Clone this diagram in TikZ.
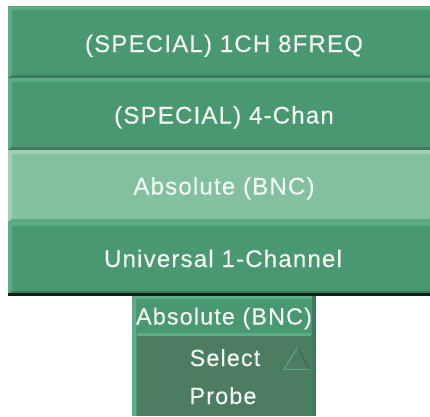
\documentclass[tikz,border=0pt]{standalone}
\usepackage{fontspec}
\setmainfont{Liberation Sans}
\newfontfamily\uifont[LetterSpace=5,FakeBold=0.3]{Liberation Sans}
\definecolor{btn}{HTML}{4A9871}
\definecolor{btnhi}{HTML}{5BAD85}
\definecolor{btnlo}{HTML}{3F7A5E}
\definecolor{sel}{HTML}{82C09F}
\definecolor{selhi}{HTML}{A0D0B8}
\definecolor{sello}{HTML}{5FA880}
\definecolor{panel}{HTML}{4C7D63}
\definecolor{txt}{HTML}{F4F8F4}
\tikzset{
  lbl/.style={text=txt,inner sep=0pt,font=\uifont\fontsize{24}{24}\selectfont,anchor=base},
  small/.style={text=txt,inner sep=0pt,font=\uifont\fontsize{23.3}{24}\selectfont,anchor=base}
}
\newcommand{\btnrow}[4]{% top, fill, hi, lo
  \fill[#2] (8,#1) rectangle (430,#1+72);
  \fill[#3] (8,#1) -- (430,#1) -- (430,#1+4) -- (12,#1+4) -- (12,#1+69) -- (8,#1+72) -- cycle;
  \fill[#4] (8,#1+72) -- (12,#1+69) -- (430,#1+69) -- (430,#1+72) -- cycle;
}
\begin{document}
\begin{tikzpicture}[x=1pt,y=-1pt]
\useasboundingbox (0,0) rectangle (430,416);
\fill[white] (0,0) rectangle (430,416);
\btnrow{6}{btn}{btnhi}{btnlo}
\btnrow{78}{btn}{btnhi}{btnlo}
\btnrow{150}{sel}{selhi}{sello}
\btnrow{222}{btn}{btnhi}{btnlo}
\fill[black!75!btnlo] (8,293) rectangle (430,295.5);
\node[lbl] (a) at (224,52) {(SPECIAL) 1CH 8FREQ};
\node[lbl] (b) at (224,123.5) {(SPECIAL) 4-Chan};
\node[lbl] (c) at (224,194.5) {Absolute (BNC)};
\node[lbl] (d) at (223,267) {Universal 1-Channel};
% lower panel
\fill[btn] (132,296) rectangle (316,416);
\fill[btnhi] (132,296) rectangle (316,299);
\fill[btnhi] (132,296) rectangle (136,416);
\fill[btnlo] (312,296) rectangle (316,416);
\fill[panel] (137,335) rectangle (312,416);
\fill[btnhi] (137,333) rectangle (311,336);
\node[small] (e) at (224,324.5) {Absolute (BNC)};
\node[small] (f) at (225,366) {Select};
\node[small] (g) at (223,404) {Probe};
\coordinate (t1) at (298,347);
\coordinate (t2) at (284,369);
\coordinate (t3) at (309,369);
\draw[btnhi,line width=1pt] (t2) -- (t1);
\draw[panel!80!black,line width=1pt] (t1) -- (t3);
\draw[btnhi,line width=1pt] (t2) -- (t3);
\end{tikzpicture}
\end{document}
